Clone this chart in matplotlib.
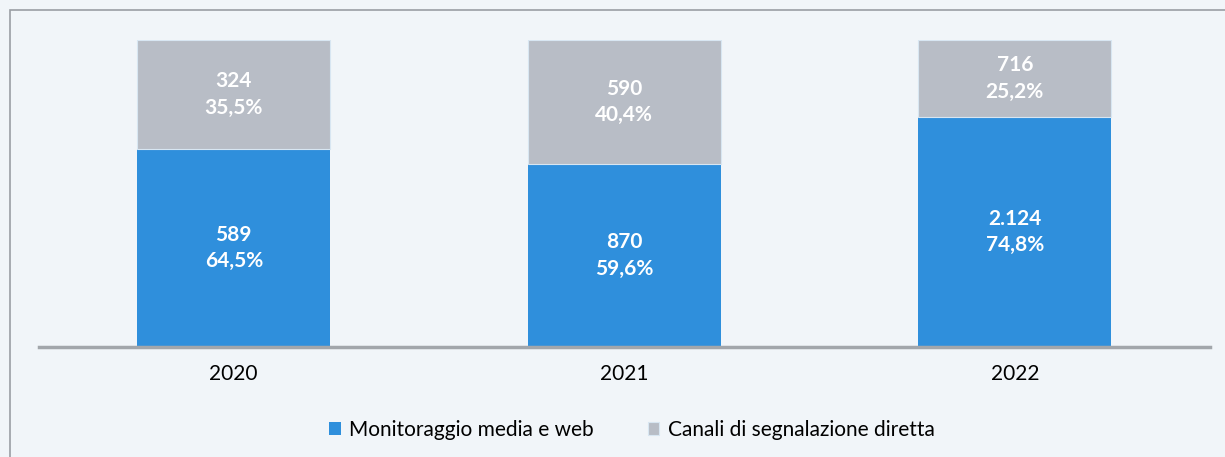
import numpy as np
import matplotlib.pyplot as plt
from matplotlib.patches import Rectangle

plt.rcParams['font.family'] = ['Lato', 'DejaVu Sans']

anni = ['2020', '2021', '2022']
media_web = [589, 870, 2124]
canali = [324, 590, 716]
media_pct = ['64,5%', '59,6%', '74,8%']
canali_pct = ['35,5%', '40,4%', '25,2%']
media_lbl = ['589', '870', '2.124']
canali_lbl = ['324', '590', '716']

blu = '#2f8fdc'
grigio = '#b8bdc6'
sfondo = '#f1f5f9'

tot = np.array(media_web) + np.array(canali)
q_media = np.array(media_web) / tot
q_canali = np.array(canali) / tot

fig = plt.figure(figsize=(12.25, 4.57), dpi=100, facecolor=sfondo)
# cornice del grafico
fig.patches.append(Rectangle((10/1225, -0.01), 1.0, 1 - 10/457 + 0.01, transform=fig.transFigure,
                             fill=False, edgecolor='#9a9ea4', linewidth=1.2))

ax = fig.add_axes([38.5/1225, 110/457, 1171.5/1225, 307/457])
ax.set_facecolor('none')

x = np.arange(len(anni))
ax.bar(x, q_media, width=0.494, color=blu, label='Monitoraggio media e web')
ax.bar(x, q_canali, width=0.494, bottom=q_media, color=grigio, label='Canali di segnalazione diretta',
       edgecolor='#d8e6f2', linewidth=0.8)

for i in range(len(anni)):
    ax.text(x[i], q_media[i] / 2, media_lbl[i] + '\n' + media_pct[i], ha='center', va='center',
            color='white', fontsize=15, fontweight='bold', linespacing=1.4)
    ax.text(x[i], q_media[i] + q_canali[i] / 2, canali_lbl[i] + '\n' + canali_pct[i], ha='center', va='center',
            color='white', fontsize=15, fontweight='bold', linespacing=1.4)

ax.set_xlim(-0.5, 2.5)
ax.set_ylim(0, 1)
ax.set_xticks(x)
ax.set_xticklabels(anni, fontsize=15)
ax.tick_params(axis='x', length=0, pad=12)
ax.set_yticks([])
for s in ['top', 'right', 'left']:
    ax.spines[s].set_visible(False)
ax.spines['bottom'].set_color('#a2a6ab')
ax.spines['bottom'].set_linewidth(2.5)

fig.legend(loc='center', bbox_to_anchor=(632/1225, 1 - 430/457), ncol=2, frameon=False,
           fontsize=15, handlelength=0.55, handleheight=0.55, columnspacing=2.6, handletextpad=0.4)

fig.savefig('out.png', dpi=100, facecolor=sfondo)
